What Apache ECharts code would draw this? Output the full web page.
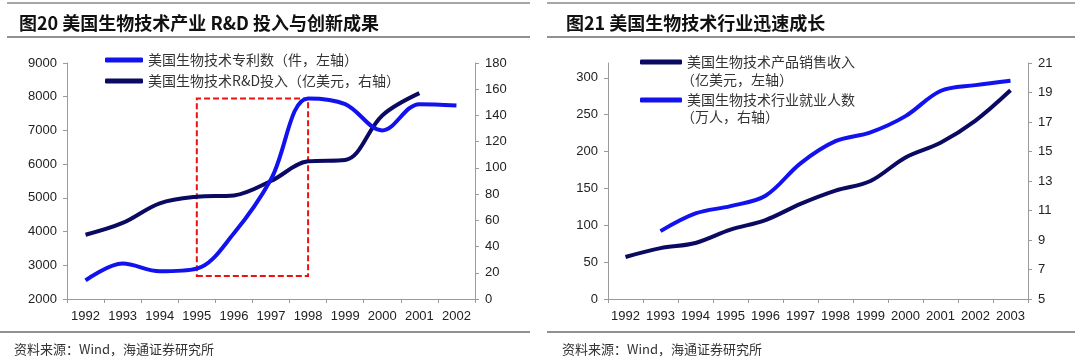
<!DOCTYPE html>
<html><head><meta charset="utf-8">
<script src="https://cdn.jsdelivr.net/npm/echarts@6/dist/echarts.min.js"></script>
<style>html,body{margin:0;padding:0;background:#fff}#c{width:1080px;height:361px}</style>
</head><body><div id="c"></div>
<script>
// ---- Chart 1 data ----
const yearsA = ['1992','1993','1994','1995','1996','1997','1998','1999','2000','2001','2002'];
const patents = [2550, 3050, 2820, 2900, 3950, 5550, 7950, 7780, 7000, 7780, 7740];
const rdSpend = [49, 58, 73, 78, 79, 90, 105, 106, 140, 157, null];
const patentAxis = {min: 2000, max: 9000, interval: 1000};
const rdAxis = {min: 0, max: 180, interval: 20};
const boxRange = {x: ['1995', '1998'], y: [2680, 7950]};
// ---- Chart 2 data ----
const yearsB = ['1992','1993','1994','1995','1996','1997','1998','1999','2000','2001','2002','2003'];
const sales = [57, 69, 76, 94, 107, 129, 147, 160, 192, 212, 242, 283];
const employees = [null, 9.6, 10.8, 11.3, 12.0, 14.2, 15.7, 16.3, 17.4, 19.1, 19.5, 19.8];
const salesAxis = {min: 0, max: 320, interval: 50};
const empAxis = {min: 5, max: 21, interval: 2};

const titles = ['图20 美国生物技术产业 R&D 投入与创新成果', '图21 美国生物技术行业迅速成长'];
const source = '资料来源：Wind，海通证券研究所';
const names = {
  patent: '美国生物技术专利数（件，左轴）',
  rd: '美国生物技术R&D投入（亿美元，右轴）',
  sales: '美国生物技术产品销售收入',
  emp: '美国生物技术行业就业人数'
};
const subNames = ['（亿美元，左轴）', '（万人，右轴）'];

const NUM = "'Liberation Sans', Arial, sans-serif";
const CJK = "'Noto Sans CJK SC', sans-serif";
const BLUE = '#1212ee';
const NAVY = '#0a0a62';
const AX = '#9a9a9a';
const SM = 0.35;

function yAx(grid, r, pos, extraLabel) {
  return {
    type: 'value', gridIndex: grid, position: pos,
    min: r.min, max: r.max, interval: r.interval,
    axisLine: {show: true, lineStyle: {color: AX, width: 1}},
    axisTick: {show: true, length: 4, inside: false, lineStyle: {color: AX}},
    splitLine: {show: false},
    axisLabel: Object.assign({color: '#222', fontSize: 13, fontFamily: NUM, margin: 10,
      formatter: function (v) { return String(v); }}, extraLabel || {})
  };
}
function xAx(grid, data) {
  return {
    type: 'category', gridIndex: grid, data: data, boundaryGap: true,
    axisLine: {show: true, lineStyle: {color: AX, width: 1}},
    axisTick: {show: true, length: 4, alignWithLabel: false, lineStyle: {color: AX}},
    splitLine: {show: false},
    axisLabel: {color: '#222', fontSize: 13, fontFamily: NUM, margin: 11, interval: 0}
  };
}

const chart = echarts.init(document.getElementById('c'), null, {renderer: 'canvas'});
const option = {
  backgroundColor: '#fff',
  animation: false,
  title: [
    {text: titles[0], left: 14, top: 9, textStyle: {fontSize: 18, fontWeight: 'bold', color: '#111', fontFamily: CJK}},
    {text: titles[1], left: 561, top: 9, textStyle: {fontSize: 18, fontWeight: 'bold', color: '#111', fontFamily: CJK}},
    {text: source, left: 9, top: 338, textStyle: {fontSize: 13, fontWeight: 'normal', color: '#333', fontFamily: CJK}},
    {text: source, left: 557, top: 338, textStyle: {fontSize: 13, fontWeight: 'normal', color: '#333', fontFamily: CJK}}
  ],
  graphic: [
    {type: 'line', shape: {x1: 7, y1: 3, x2: 530, y2: 3}, style: {stroke: '#8a8a8a', lineWidth: 1.5}},
    {type: 'line', shape: {x1: 547, y1: 3, x2: 1075, y2: 3}, style: {stroke: '#8a8a8a', lineWidth: 1.5}},
    {type: 'line', shape: {x1: 7, y1: 37, x2: 530, y2: 37}, style: {stroke: '#222', lineWidth: 1}},
    {type: 'line', shape: {x1: 547, y1: 37, x2: 1075, y2: 37}, style: {stroke: '#222', lineWidth: 1}},
    {type: 'line', shape: {x1: 0, y1: 332, x2: 530, y2: 332}, style: {stroke: '#222', lineWidth: 1}},
    {type: 'line', shape: {x1: 547, y1: 332, x2: 1075, y2: 332}, style: {stroke: '#222', lineWidth: 1}},
    {type: 'text', left: 681, top: 73, style: {text: subNames[0], fontSize: 14, fill: '#333', fontFamily: CJK}},
    {type: 'text', left: 681, top: 110, style: {text: subNames[1], fontSize: 14, fill: '#333', fontFamily: CJK}}
  ],
  legend: [
    {orient: 'vertical', left: 100, top: 48, itemWidth: 38, itemHeight: 5, itemGap: 7, icon: 'roundRect',
     data: [names.patent, names.rd],
     textStyle: {fontSize: 14, color: '#333', fontFamily: CJK}},
    {orient: 'vertical', left: 635, top: 50, itemWidth: 42, itemHeight: 5, itemGap: 24, icon: 'roundRect',
     data: [names.sales, names.emp],
     textStyle: {fontSize: 14, color: '#333', fontFamily: CJK}}
  ],
  grid: [
    {left: 67, right: 605, top: 63, bottom: 62, containLabel: false},
    {left: 608, right: 52, top: 63, bottom: 62, containLabel: false}
  ],
  xAxis: [xAx(0, yearsA), xAx(1, yearsB)],
  yAxis: [
    yAx(0, patentAxis, 'left'),
    yAx(0, rdAxis, 'right'),
    yAx(1, salesAxis, 'left', {showMaxLabel: false}),
    yAx(1, empAxis, 'right')
  ],
  series: [
    {name: names.patent, type: 'line', xAxisIndex: 0, yAxisIndex: 0, data: patents, smooth: SM,
     symbol: 'none', lineStyle: {color: BLUE, width: 4}, itemStyle: {color: BLUE}, z: 3,
     markArea: {silent: true,
       itemStyle: {color: 'rgba(0,0,0,0)', borderColor: '#ee1111', borderWidth: 2, borderType: [6, 3]},
       data: [[{xAxis: boxRange.x[0], yAxis: boxRange.y[0]}, {xAxis: boxRange.x[1], yAxis: boxRange.y[1]}]]}},
    {name: names.rd, type: 'line', xAxisIndex: 0, yAxisIndex: 1, data: rdSpend, smooth: SM,
     symbol: 'none', lineStyle: {color: NAVY, width: 4}, itemStyle: {color: NAVY}, z: 2},
    {name: names.sales, type: 'line', xAxisIndex: 1, yAxisIndex: 2, data: sales, smooth: SM,
     symbol: 'none', lineStyle: {color: NAVY, width: 4}, itemStyle: {color: NAVY}},
    {name: names.emp, type: 'line', xAxisIndex: 1, yAxisIndex: 3, data: employees, smooth: SM,
     symbol: 'none', lineStyle: {color: BLUE, width: 4}, itemStyle: {color: BLUE}}
  ]
};
chart.setOption(option);
</script></body></html>
